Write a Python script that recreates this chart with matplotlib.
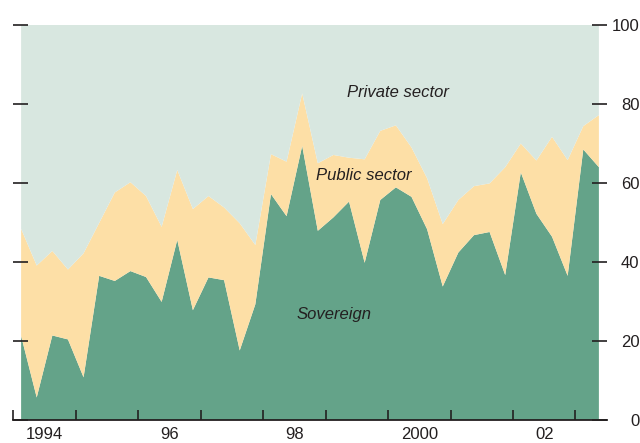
import matplotlib
matplotlib.use("Agg")
import matplotlib.pyplot as plt
import numpy as np

plt.rcParams['font.family'] = ['Liberation Sans', 'DejaVu Sans']

# Quarterly observations, 1994Q1 .. 2003Q2
start_year = 1994
n_quarters = 38
sovereign = [21.3, 5.7, 21.4, 20.4, 10.8, 36.5, 35.2, 37.7, 36.2, 29.9,
             45.6, 27.8, 36.1, 35.4, 17.6, 29.3, 57.2, 51.6, 69.4, 47.9,
             51.3, 55.3, 39.8, 55.7, 58.9, 56.5, 48.3, 33.8, 42.4, 46.8,
             47.6, 36.7, 62.7, 52.2, 46.4, 36.5, 68.5, 64.0]
public_sector = [27.1, 33.4, 21.4, 17.7, 31.4, 13.4, 22.4, 22.5, 20.5, 19.0,
                 17.7, 25.6, 20.6, 18.4, 32.2, 15.0, 10.1, 13.8, 13.3, 17.1,
                 15.8, 11.1, 26.2, 17.5, 15.7, 12.5, 12.9, 15.8, 13.3, 12.4,
                 12.3, 27.3, 7.3, 13.5, 25.3, 29.3, 5.9, 13.2]
private_sector = [51.6, 60.9, 57.2, 61.9, 57.8, 50.1, 42.4, 39.8, 43.3, 51.1,
                  36.7, 46.6, 43.3, 46.2, 50.2, 55.7, 32.7, 34.6, 17.3, 35.0,
                  32.9, 33.6, 34.0, 26.8, 25.4, 31.0, 38.8, 50.4, 44.3, 40.8,
                  40.1, 36.0, 30.0, 34.3, 28.3, 34.2, 25.6, 22.8]

series_labels = ["Sovereign", "Public sector", "Private sector"]
year_ticks = list(range(1994, 2004))
year_labels = ["1994", "96", "98", "2000", "02"]
year_label_pos = [1994.5, 1996.5, 1998.5, 2000.5, 2002.5]
y_ticks = [0, 20, 40, 60, 80, 100]

colors = ["#64a389", "#fddfa6", "#d8e7e0"]
text_col = "#231f20"

x = np.array([start_year + (i + 0.5) / 4.0 for i in range(n_quarters)])

fig = plt.figure(figsize=(6.4, 4.43), dpi=100)
ax = fig.add_axes([13.3 / 640, (443 - 420) / 443, (606.7 - 13.3) / 640, (420 - 25) / 443])

ax.stackplot(x, sovereign, public_sector, private_sector, colors=colors,
             linewidth=0, antialiased=True)

ax.set_xlim(1994, 2003.5)
ax.set_ylim(0, 100)

for s in ["top", "left", "right"]:
    ax.spines[s].set_visible(False)
ax.spines["bottom"].set_color(text_col)
ax.spines["bottom"].set_linewidth(1.3)

# x axis: year ticks inward, labels centred between ticks
ax.set_xticks(year_ticks)
ax.set_xticklabels([])
ax.set_xticks(year_label_pos, minor=True)
ax.set_xticklabels(year_labels, minor=True)
ax.tick_params(axis="x", which="major", direction="in", length=7.5, width=1.2,
               color=text_col)
ax.tick_params(axis="x", which="minor", length=0, pad=5, labelsize=12,
               labelcolor=text_col)

# y axis: ticks both sides inward, labels on right
ax.set_yticks(y_ticks)
ax.tick_params(axis="y", which="both", direction="in", length=11, width=1.2,
               color=text_col, left=True, right=True, labelleft=False,
               labelright=True, labelsize=12, labelcolor=text_col, pad=23.5)
for lab in ax.get_yticklabels():
    lab.set_horizontalalignment("right")

ax.text(1999.13, 26.8, series_labels[0], fontsize=12, style="italic",
        color=text_col, ha="center", va="center")
ax.text(1999.61, 61.8, series_labels[1], fontsize=12, style="italic",
        color=text_col, ha="center", va="center")
ax.text(2000.16, 82.8, series_labels[2], fontsize=12, style="italic",
        color=text_col, ha="center", va="center")

fig.savefig("out.png", dpi=100)
